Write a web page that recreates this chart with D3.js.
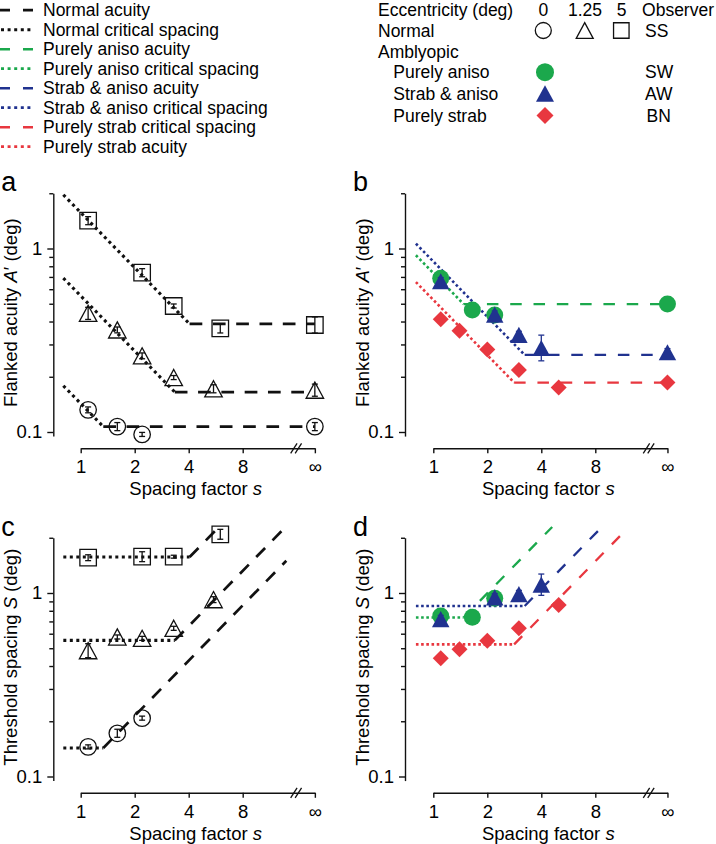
<!DOCTYPE html>
<html><head><meta charset="utf-8">
<script src="https://cdn.jsdelivr.net/npm/d3@7"></script>
<style>
body{margin:0;background:#fff}
svg{display:block}
text{font-family:"Liberation Sans",Arial,Helvetica,sans-serif;fill:#000}
</style>
</head><body>
<svg id="chart" width="716" height="844"></svg>
<script>
// ---------------- DATA ----------------
const xTickValues = [1, 2, 4, 8, Infinity];
const xTickLabels = ["1", "2", "4", "8", "\u221E"];
const yMajorTicks = [0.1, 1];
const yMajorLabels = ["0.1", "1"];
const yMinorTicks = [0.2, 0.3, 0.4, 0.5, 0.6, 0.7, 0.8, 0.9, 2];

// Normal observer SS, eccentricity 0 deg (circles)
const ssEcc0Spacing = [1.1, 1.6, 2.2, Infinity];
const ssEcc0Acuity = [0.132, 0.107, 0.097, 0.107];
const ssEcc0AcuityErr = [0.016, 0.022, 0.011, 0.022];      // log10 half-width
const ssEcc0Threshold = [0.145, 0.172, 0.208];
const ssEcc0ThresholdErr = [0.011, 0.022, 0.011];
// eccentricity 1.25 deg (triangles)
const ssEcc125Spacing = [1.1, 1.6, 2.2, 3.3, 5.5, Infinity];
const ssEcc125Acuity = [0.443, 0.360, 0.260, 0.198, 0.172, 0.169];
const ssEcc125AcuityErr = [0.033, 0.016, 0.016, 0.011, 0.022, 0.033];
const ssEcc125Threshold = [0.485, 0.576, 0.566, 0.642, 0.92];
const ssEcc125ThresholdErr = [0.038, 0.011, 0.011, 0.011, 0.016];
// eccentricity 5 deg (squares)
const ssEcc5Spacing = [1.1, 2.2, 3.3, 6, Infinity];
const ssEcc5Acuity = [1.418, 0.738, 0.486, 0.367, 0.383];
const ssEcc5AcuityErr = [0.022, 0.022, 0.011, 0.025, 0.044];
const ssEcc5Threshold = [1.557, 1.577, 1.577, 2.089];
const ssEcc5ThresholdErr = [0.016, 0.027, 0.008, 0.027];

// Amblyopic observers
const swSpacing = [1.1, 1.65, 2.2, Infinity];            // purely aniso (SW)
const swAcuity = [0.688, 0.462, 0.434, 0.498];
const swAcuityErr = [0.02, 0.02, 0.02, 0.02];
const swThreshold = [0.749, 0.737, 0.936];
const swThresholdErr = [0.02, 0.02, 0.02];
const awSpacing = [1.1, 2.2, 3.0, 4.0, Infinity];         // strab & aniso (AW)
const awAcuity = [0.663, 0.436, 0.338, 0.287, 0.272];
const awAcuityErr = [0.02, 0.02, 0.02, 0.07, 0.02];
const awThreshold = [0.721, 0.947, 0.987, 1.11];
const awThresholdErr = [0.02, 0.02, 0.02, 0.058];
const bnSpacing = [1.1, 1.4, 2.0, 3.0, 5.0, Infinity];    // purely strab (BN)
const bnAcuity = [0.411, 0.356, 0.282, 0.218, 0.175, 0.186];
const bnAcuityErr = [0.02, 0.02, 0.02, 0.02, 0.02, 0.02];
const bnThreshold = [0.441, 0.493, 0.55, 0.642, 0.86];
const bnThresholdErr = [0.02, 0.02, 0.02, 0.02, 0.02];

// Fitted model parameters: [ecc0, ecc1.25, ecc5, SW, AW, BN]
const fitNames = ["ecc0", "ecc125", "ecc5", "SW", "AW", "BN"];
const fitAcuity = [0.107, 0.165, 0.388, 0.498, 0.263, 0.186];
const fitCriticalSpacing = [0.143, 0.552, 1.57, 0.735, 0.85, 0.525];
const fitStartSpacing = [0.8, 0.8, 0.8, 0.8, 0.8, 0.8];
const fitEndSpacing = [14, 13.5, 5.7, 4.6, 8.7, 11.7];

const leftLegendLabels = ["Normal acuity", "Normal critical spacing", "Purely aniso acuity",
  "Purely aniso critical spacing", "Strab & aniso acuity", "Strab & aniso critical spacing",
  "Purely strab critical spacing", "Purely strab acuity"];
const leftLegendStyles = ["dash", "dot", "dash", "dot", "dash", "dot", "dash", "dot"];

// ---------------- STYLE ----------------
const BLACK = "#111", GREEN = "#1ba84c", BLUE = "#20328f", RED = "#e8373f";
const leftLegendColors = [BLACK, BLACK, GREEN, GREEN, BLUE, BLUE, RED, RED];
const fitColors = [BLACK, BLACK, BLACK, GREEN, BLUE, RED];
const INF_AXIS_S = 20.2;   // where "infinity" sits on the axis
const PX_PER_DECADE = 183.5;
const PX_PER_OCTAVE = 54;

const svg = d3.select("#chart");

const panels = {
  a: {x1: 80.7, axisX: 53.3, y1: 248.5, xAxisY: 448.3, kind: "acuity"},
  b: {x1: 433.3, axisX: 405, y1: 248.5, xAxisY: 448.3, kind: "acuity"},
  c: {x1: 80.7, axisX: 53.3, y1: 593, xAxisY: 792.8, kind: "spacing"},
  d: {x1: 433.3, axisX: 405, y1: 593, xAxisY: 792.8, kind: "spacing"}
};

function makeScales(p) {
  const xs = d3.scaleLog().base(2).domain([1, INF_AXIS_S])
    .range([p.x1, p.x1 + PX_PER_OCTAVE * Math.log2(INF_AXIS_S)]);
  const ys = d3.scaleLog().domain([0.1, 1]).range([p.y1 + PX_PER_DECADE, p.y1]);
  const X = s => isFinite(s) ? xs(s) : xs(INF_AXIS_S);
  return {xs, ys, X};
}

function drawAxes(p, sc, letter, ylabelMain, ylabelItal, ylabelRest) {
  const g = svg.append("g");
  const yAxisScale = sc.ys.copy().domain([0.095, 2]).range([sc.ys(0.095), sc.ys(2)]);
  const ya = g.append("g").attr("transform", `translate(${p.axisX},0)`)
    .call(d3.axisLeft(yAxisScale).tickValues(yMajorTicks).tickSize(6).tickSizeOuter(0).tickPadding(5)
      .tickFormat((d, i) => yMajorLabels[i]));
  const ym = g.append("g").attr("transform", `translate(${p.axisX},0)`)
    .call(d3.axisLeft(yAxisScale).tickValues(yMinorTicks).tickSize(4).tickSizeOuter(0).tickFormat(""));
  ym.select(".domain").remove();
  const xa = g.append("g").attr("transform", `translate(0,${p.xAxisY})`)
    .call(d3.axisBottom(sc.xs).tickValues(xTickValues.map(v => isFinite(v) ? v : INF_AXIS_S))
      .tickSize(5).tickSizeOuter(0).tickPadding(7).tickFormat((d, i) => xTickLabels[i]));
  [ya, ym, xa].forEach(a => {
    a.selectAll("path,line").attr("stroke", BLACK).attr("stroke-width", 1.4);
    a.selectAll("text").attr("font-size", 18.5).attr("fill", BLACK)
      .style("font-family", '"Liberation Sans",Arial,Helvetica,sans-serif');
  });
  const xInf = sc.X(Infinity);
  [xInf - 21, xInf - 16.5].forEach(cx => {
    g.append("line").attr("x1", cx - 3.2).attr("y1", p.xAxisY + 5)
      .attr("x2", cx + 3.2).attr("y2", p.xAxisY - 5)
      .attr("stroke", BLACK).attr("stroke-width", 1.3);
  });
  const xl = g.append("text").attr("x", p.x1 + 115).attr("y", p.xAxisY + 47)
    .attr("text-anchor", "middle").attr("font-size", 18.5);
  xl.append("tspan").text("Spacing factor ");
  xl.append("tspan").attr("font-style", "italic").text("s");
  const yc = (sc.ys(2) + sc.ys(0.095)) / 2 - 2;
  const yl = g.append("text").attr("transform", `translate(${p.axisX - 36.5},${yc}) rotate(-90)`)
    .attr("text-anchor", "middle").attr("font-size", 18.5);
  yl.append("tspan").text(ylabelMain);
  yl.append("tspan").attr("font-style", "italic").text(ylabelItal);
  yl.append("tspan").text(ylabelRest);
  g.append("text").attr("x", p.axisX - 52).attr("y", sc.ys(2) - 2)
    .attr("font-size", 27).text(letter);
}

function markerPath(type, x, y, size) {
  const h = size / 2;
  if (type === "square") return `M${x - h},${y - h}H${x + h}V${y + h}H${x - h}Z`;
  if (type === "triangle") {
    const w = size * 1.06 / 2, hh = size * 0.98 / 2;
    return `M${x},${y - hh}L${x + w},${y + hh}L${x - w},${y + hh}Z`;
  }
  if (type === "diamond") return `M${x},${y - h}L${x + h},${y}L${x},${y + h}L${x - h},${y}Z`;
  return null;
}

function drawMarker(g, type, x, y, size, color, filled) {
  if (type === "circle") {
    g.append("circle").attr("cx", x).attr("cy", y).attr("r", size / 2)
      .attr("fill", filled ? color : "none").attr("stroke", filled ? "none" : color)
      .attr("stroke-width", 1.3);
  } else {
    g.append("path").attr("d", markerPath(type, x, y, size))
      .attr("fill", filled ? color : "none").attr("stroke", filled ? "none" : color)
      .attr("stroke-width", 1.3).attr("stroke-linejoin", "miter");
  }
}

function drawErrorBar(g, x, y0, y1, color, cap) {
  g.append("line").attr("x1", x).attr("x2", x).attr("y1", y0).attr("y2", y1)
    .attr("stroke", color).attr("stroke-width", 1.3);
  [y0, y1].forEach(yy => g.append("line").attr("x1", x - cap).attr("x2", x + cap)
    .attr("y1", yy).attr("y2", yy).attr("stroke", color).attr("stroke-width", 1.3));
}

function drawSeries(sc, spacing, values, errs, type, color, filled, size) {
  const g = svg.append("g");
  const bars = svg.append("g");
  const pts = values.map((v, i) => ({x: sc.X(spacing[i]), v, e: errs[i]}));
  pts.forEach(p => {
    const y = sc.ys(p.v);
    const ylo = sc.ys(p.v * Math.pow(10, -p.e)), yhi = sc.ys(p.v * Math.pow(10, p.e));
    if (filled) {
      drawErrorBar(g, p.x, ylo, yhi, color, 3);
      drawMarker(g, type, p.x, y, size, color, true);
    } else {
      drawMarker(g, type, p.x, y, size, color, false);
      drawErrorBar(bars, p.x, ylo, yhi, color, 3);
    }
  });
}

const DASH_BLACK = "12.7,10.6", DOT_BLACK = "3,3.5";
const DASH_COLOR = "11.5,11.8", DOT_COLOR = "2.6,2.6";

function drawFits(sc, kind, indices) {
  const g = svg.append("g");
  const line = d3.line().x(d => sc.X(d[0])).y(d => sc.ys(d[1]));
  indices.forEach(i => {
    const A = fitAcuity[i], S = fitCriticalSpacing[i], cross = S / A;
    const s0 = fitStartSpacing[i], s1 = fitEndSpacing[i];
    const isBlack = fitColors[i] === BLACK;
    let dotted, dashed;
    if (kind === "acuity") {
      dotted = [[s0, S / s0], [cross, A]];
      dashed = [[cross, A], [Infinity, A]];
    } else {
      dotted = [[s0, S], [cross, S]];
      dashed = [[cross, S], [s1, A * s1]];
    }
    g.append("path").attr("d", line(dotted)).attr("fill", "none").attr("stroke", fitColors[i])
      .attr("stroke-width", isBlack ? 3.1 : 2.6).attr("stroke-dasharray", isBlack ? DOT_BLACK : DOT_COLOR);
    g.append("path").attr("d", line(dashed)).attr("fill", "none").attr("stroke", fitColors[i])
      .attr("stroke-width", isBlack ? 2.7 : 2.3).attr("stroke-dasharray", isBlack ? DASH_BLACK : DASH_COLOR);
  });
}

// ---------------- PANELS ----------------
const sa = makeScales(panels.a), sb = makeScales(panels.b), scc = makeScales(panels.c), sd = makeScales(panels.d);
drawAxes(panels.a, sa, "a", "Flanked acuity ", "A", "\u2032 (deg)");
drawAxes(panels.b, sb, "b", "Flanked acuity ", "A", "\u2032 (deg)");
drawAxes(panels.c, scc, "c", "Threshold spacing ", "S", " (deg)");
drawAxes(panels.d, sd, "d", "Threshold spacing ", "S", " (deg)");

drawFits(sa, "acuity", [0, 1, 2]);
drawFits(scc, "spacing", [0, 1, 2]);
drawFits(sb, "acuity", [3, 4, 5]);
drawFits(sd, "spacing", [3, 4, 5]);

drawSeries(sa, ssEcc5Spacing, ssEcc5Acuity, ssEcc5AcuityErr, "square", BLACK, false, 16.5);
drawSeries(sa, ssEcc125Spacing, ssEcc125Acuity, ssEcc125AcuityErr, "triangle", BLACK, false, 16.5);
drawSeries(sa, ssEcc0Spacing, ssEcc0Acuity, ssEcc0AcuityErr, "circle", BLACK, false, 16.5);
drawSeries(scc, ssEcc5Spacing, ssEcc5Threshold, ssEcc5ThresholdErr, "square", BLACK, false, 16.5);
drawSeries(scc, ssEcc125Spacing, ssEcc125Threshold, ssEcc125ThresholdErr, "triangle", BLACK, false, 16.5);
drawSeries(scc, ssEcc0Spacing, ssEcc0Threshold, ssEcc0ThresholdErr, "circle", BLACK, false, 16.5);

drawSeries(sb, swSpacing, swAcuity, swAcuityErr, "circle", GREEN, true, 17);
drawSeries(sb, awSpacing, awAcuity, awAcuityErr, "triangle", BLUE, true, 16.5);
drawSeries(sb, bnSpacing, bnAcuity, bnAcuityErr, "diamond", RED, true, 16);
drawSeries(sd, swSpacing, swThreshold, swThresholdErr, "circle", GREEN, true, 17);
drawSeries(sd, awSpacing, awThreshold, awThresholdErr, "triangle", BLUE, true, 16.5);
drawSeries(sd, bnSpacing, bnThreshold, bnThresholdErr, "diamond", RED, true, 16);

// ---------------- LEGENDS ----------------
const lg = svg.append("g");
leftLegendLabels.forEach((lab, i) => {
  const y = 10.2 + 19.5 * i;
  const dot = leftLegendStyles[i] === "dot", isBlack = leftLegendColors[i] === BLACK;
  lg.append("line").attr("x1", dot ? 1 : 0).attr("x2", 33).attr("y1", y).attr("y2", y)
    .attr("stroke", leftLegendColors[i])
    .attr("stroke-width", dot ? (isBlack ? 3.1 : 2.8) : (isBlack ? 2.7 : 2.5))
    .attr("stroke-dasharray", dot ? "3,3.6" : "10,13");
  lg.append("text").attr("x", 43).attr("y", y + 6).attr("font-size", 17.5).text(lab);
});

const rg = svg.append("g");
const rowY = [10.2, 30.5, 51.5, 72.2, 93.5, 115.5];
const rtext = (x, i, t, anchor) => rg.append("text").attr("x", x).attr("y", rowY[i] + 6.2)
  .attr("font-size", 17.5).attr("text-anchor", anchor || "start").text(t);
rtext(378, 0, "Eccentricity (deg)");
rtext(543.3, 0, "0", "middle");
rtext(585, 0, "1.25", "middle");
rtext(621.7, 0, "5", "middle");
rg.append("text").attr("x", 714).attr("y", rowY[0] + 6.2).attr("font-size", 17.5)
  .attr("text-anchor", "end").text("Observer");
rtext(378, 1, "Normal");
drawMarker(rg, "circle", 543.3, rowY[1], 16, BLACK, false);
drawMarker(rg, "triangle", 584.7, rowY[1], 16, BLACK, false);
drawMarker(rg, "square", 621.3, rowY[1], 15.5, BLACK, false);
rtext(645, 1, "SS");
rtext(378, 2, "Amblyopic");
rtext(393.3, 3, "Purely aniso");
drawMarker(rg, "circle", 545, rowY[3], 18, GREEN, true);
rtext(645, 3, "SW");
rtext(393.3, 4, "Strab & aniso");
drawMarker(rg, "triangle", 545, rowY[4], 17, BLUE, true);
rtext(645, 4, "AW");
rtext(393.3, 5, "Purely strab");
drawMarker(rg, "diamond", 545, rowY[5], 17, RED, true);
rtext(646.5, 5, "BN");
</script>
</body></html>
